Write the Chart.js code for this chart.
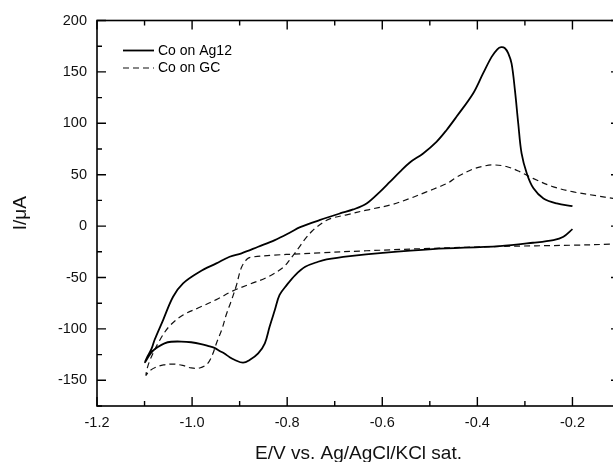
<!DOCTYPE html>
<html>
<head>
<meta charset="utf-8">
<script src="https://cdn.jsdelivr.net/npm/chart.js@4/dist/chart.umd.min.js"></script>
<style>
  html, body { margin: 0; padding: 0; background: #fff; overflow: hidden; }
  #wrap { width: 613px; height: 462px; overflow: hidden; }
  canvas { display: block; }
</style>
</head>
<body>
<div id="wrap"><canvas id="c" width="640" height="462"></canvas></div>
<script>
// ---- data ----
const seriesLabels = ['Co on Ag12', 'Co on GC'];

// Co on Ag12 (solid): potential E/V and current I/µA
const agE = [-0.200, -0.219, -0.240, -0.283, -0.353, -0.494, -0.599, -0.668, -0.717, -0.735, -0.762, -0.783,
  -0.801, -0.816, -0.826, -0.837, -0.847, -0.861, -0.879, -0.893, -0.911, -0.921, -0.932, -0.942, -0.953,
  -0.967, -0.981, -1.002, -1.023, -1.044, -1.058, -1.072, -1.083, -1.092, -1.099,
  -1.094, -1.085, -1.079, -1.061, -1.040, -1.019, -0.984, -0.949, -0.921, -0.896, -0.861, -0.826, -0.791,
  -0.774, -0.732, -0.689, -0.661, -0.633, -0.605, -0.584, -0.563, -0.542, -0.514, -0.486, -0.465, -0.444,
  -0.409, -0.388, -0.370, -0.358, -0.350, -0.342, -0.335, -0.328, -0.321, -0.314, -0.307, -0.296, -0.282,
  -0.261, -0.233, -0.200];
const agI = [-3.0, -10.4, -13.6, -16.2, -19.4, -22.4, -26.0, -29.2, -32.4, -34.7, -39.6, -47.6,
  -57.4, -67.0, -81.7, -97.9, -114.0, -123.8, -130.3, -132.9, -130.0, -127.5, -124.0, -121.5, -118.5,
  -116.5, -114.7, -113.0, -112.3, -112.5, -114.0, -117.5, -121.5, -127.0, -132.5,
  -127.0, -119.0, -110.8, -91.4, -68.7, -55.7, -44.4, -36.3, -29.8, -26.5, -20.1, -13.6, -5.5,
  -1.3, 5.8, 12.3, 16.2, 22.0, 33.3, 43.0, 52.8, 61.9, 70.7, 82.0, 93.3, 106.3,
  129.0, 148.5, 164.6, 172.0, 174.0, 173.0, 168.0, 158.0, 132.2, 99.8, 70.7, 51.2, 36.7,
  26.9, 22.0, 19.4];

// Co on GC (dashed)
const gcE = [-0.100, -0.115, -0.200, -0.353, -0.494, -0.633, -0.732, -0.774, -0.830, -0.872, -0.883,
  -0.896, -0.907, -0.917, -0.928, -0.937, -0.948, -0.958, -0.968, -0.984, -1.002, -1.020, -1.040, -1.060,
  -1.075, -1.090, -1.097,
  -1.090, -1.068, -1.047, -1.019, -0.984, -0.949, -0.914, -0.879, -0.843, -0.808, -0.791, -0.777, -0.763,
  -0.748, -0.735, -0.718, -0.700, -0.675, -0.633, -0.584, -0.542, -0.507, -0.479, -0.458, -0.444, -0.409,
  -0.385, -0.367, -0.339, -0.311, -0.283, -0.240, -0.198, -0.149, -0.115, -0.100];
const gcI = [-17.2, -17.5, -18.6, -19.8, -21.6, -24.0, -26.0, -27.0, -28.3, -30.0, -31.5,
  -40.0, -58.0, -72.0, -86.0, -100.0, -113.0, -126.0, -134.0, -138.0, -138.0, -135.5, -134.2, -135.0,
  -137.0, -141.0, -145.0,
  -132.0, -111.0, -97.0, -86.5, -79.0, -71.5, -63.0, -56.5, -50.0, -40.0, -30.5, -22.0, -13.0,
  -5.0, 0.0, 5.5, 8.5, 11.0, 15.6, 20.4, 26.9, 33.3, 38.5, 43.0, 47.5, 55.5,
  58.5, 59.5, 58.0, 53.0, 46.4, 38.2, 33.3, 29.5, 27.0, 26.0];

// axes
const xMajorTicks = [-1.2, -1.0, -0.8, -0.6, -0.4, -0.2];
const yMajorTicks = [-150, -100, -50, 0, 50, 100, 150, 200];
const xRange = [-1.2, -0.1];
const yRange = [-175, 200];
const xTitle = 'E/V vs. Ag/AgCl/KCl sat.';
const yTitle = 'I/\u03bcA';

const FONT = '"Liberation Sans", Arial, sans-serif';

function pts(xs, ys) { return xs.map((v, i) => ({ x: v, y: ys[i] })); }

// frame with inward major/minor ticks on all four sides
const frameTicks = {
  id: 'frameTicks',
  afterDatasetsDraw(chart) {
    const { ctx, chartArea: a, scales } = chart;
    const xs = scales.x, ys = scales.y;
    const majorLen = 9, minorLen = 5;
    ctx.save();
    ctx.strokeStyle = '#000';
    ctx.lineWidth = 1.6;
    ctx.strokeRect(a.left, a.top, a.right - a.left, a.bottom - a.top);
    ctx.lineWidth = 1.4;
    const xStep = xMajorTicks[1] - xMajorTicks[0];
    const yStep = yMajorTicks[1] - yMajorTicks[0];
    const xMinor = xMajorTicks.map(v => v + xStep / 2);
    const yMinor = [yMajorTicks[0] - yStep / 2].concat(yMajorTicks.map(v => v + yStep / 2));
    ctx.beginPath();
    const vtick = (v, len) => {
      if (v < xRange[0] - 1e-9 || v > xRange[1] + 1e-9) return;
      const px = xs.getPixelForValue(v);
      ctx.moveTo(px, a.bottom); ctx.lineTo(px, a.bottom - len);
      ctx.moveTo(px, a.top); ctx.lineTo(px, a.top + len);
    };
    const htick = (v, len) => {
      if (v < yRange[0] - 1e-9 || v > yRange[1] + 1e-9) return;
      const py = ys.getPixelForValue(v);
      ctx.moveTo(a.left, py); ctx.lineTo(a.left + len, py);
      ctx.moveTo(a.right, py); ctx.lineTo(a.right - len, py);
    };
    xMajorTicks.forEach(v => vtick(v, majorLen));
    xMinor.forEach(v => vtick(v, minorLen));
    yMajorTicks.forEach(v => htick(v, majorLen));
    yMinor.forEach(v => htick(v, minorLen));
    ctx.stroke();
    ctx.restore();
  }
};

// legend drawn inside the plot, top-left
const innerLegend = {
  id: 'innerLegend',
  afterDraw(chart) {
    const { ctx, chartArea: a } = chart;
    ctx.save();
    ctx.font = '14px ' + FONT;
    ctx.textBaseline = 'middle';
    ctx.fillStyle = '#000';
    chart.data.datasets.forEach((ds, i) => {
      const y = a.top + 30 + i * 17.5;
      const x0 = a.left + 26;
      ctx.strokeStyle = ds.borderColor;
      ctx.lineWidth = ds.borderWidth;
      ctx.setLineDash(ds.borderDash || []);
      ctx.beginPath();
      ctx.moveTo(x0, y); ctx.lineTo(x0 + 31, y);
      ctx.stroke();
      ctx.setLineDash([]);
      ctx.fillText(ds.label, x0 + 35, y + 0.5);
    });
    ctx.restore();
  }
};

new Chart(document.getElementById('c'), {
  type: 'scatter',
  data: {
    datasets: [
      {
        label: seriesLabels[0],
        data: pts(agE, agI),
        showLine: true,
        borderColor: '#000',
        borderWidth: 1.8,
        pointRadius: 0,
        tension: 0.35,
        fill: false
      },
      {
        label: seriesLabels[1],
        data: pts(gcE, gcI),
        showLine: true,
        borderColor: '#111',
        borderWidth: 1.2,
        borderDash: [6, 4],
        pointRadius: 0,
        tension: 0.35,
        fill: false
      }
    ]
  },
  options: {
    responsive: false,
    animation: false,
    devicePixelRatio: 1,
    layout: { padding: { left: 0, top: 20.5, right: 20, bottom: 0 } },
    plugins: {
      legend: { display: false },
      tooltip: { enabled: false }
    },
    scales: {
      x: {
        type: 'linear',
        position: 'bottom',
        min: xRange[0],
        max: xRange[1],
        afterBuildTicks(scale) { scale.ticks = xMajorTicks.map(v => ({ value: v })); },
        afterFit(scale) { scale.height = 56; },
        grid: { display: false, drawTicks: false },
        border: { display: false },
        ticks: {
          padding: 8,
          color: '#111',
          font: { family: FONT, size: 14.5 },
          maxRotation: 0,
          callback: v => (Math.round(v * 10) / 10).toFixed(1)
        },
        title: {
          display: true,
          text: xTitle,
          color: '#111',
          font: { family: FONT, size: 19, lineHeight: 0.9 },
          padding: { top: 0, bottom: 0 }
        }
      },
      y: {
        type: 'linear',
        position: 'left',
        min: yRange[0],
        max: yRange[1],
        afterBuildTicks(scale) { scale.ticks = yMajorTicks.map(v => ({ value: v })); },
        afterFit(scale) { scale.width = 97; },
        grid: { display: false, drawTicks: false },
        border: { display: false },
        ticks: {
          padding: 10,
          color: '#111',
          font: { family: FONT, size: 14.5 },
          callback: v => String(v)
        },
        title: {
          display: true,
          text: yTitle,
          color: '#111',
          font: { family: FONT, size: 19, lineHeight: 1.2 },
          padding: { top: 9, bottom: 0 }
        }
      }
    }
  },
  plugins: [frameTicks, innerLegend]
});
</script>
</body>
</html>
